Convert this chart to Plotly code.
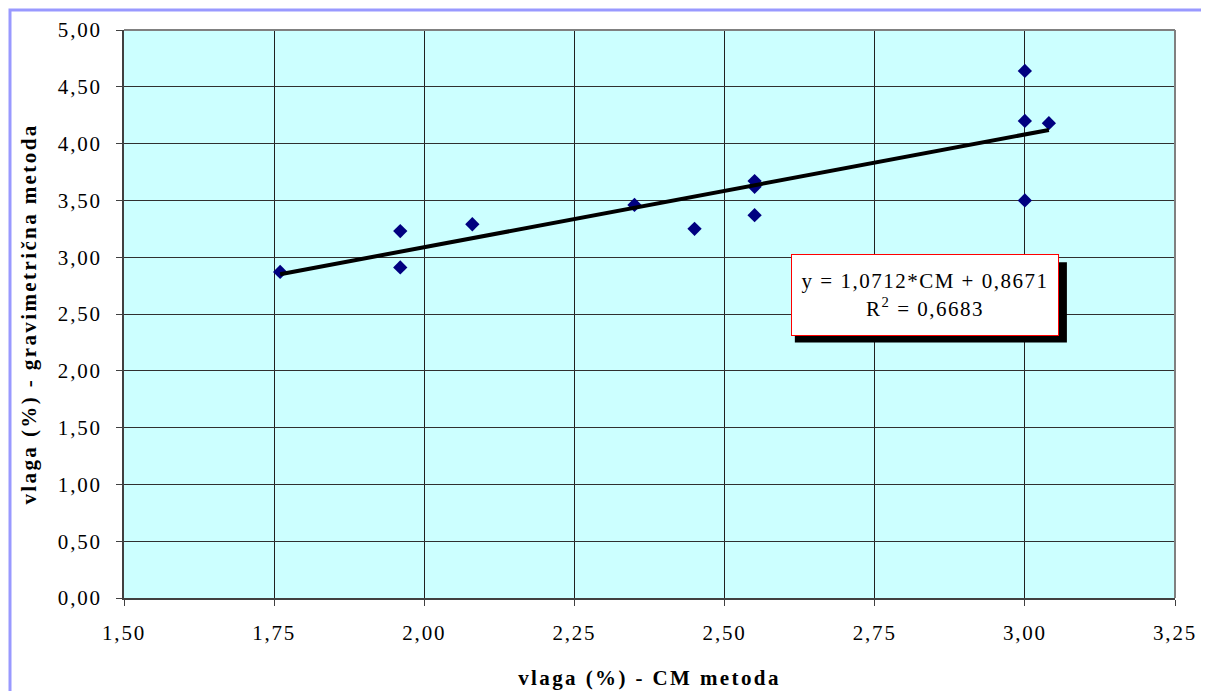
import plotly.graph_objects as go

cm = [1.76, 1.96, 1.96, 2.08, 2.35, 2.45, 2.55, 2.55, 2.55, 3.00, 3.00, 3.00, 3.04]
grav = [2.87, 3.23, 2.91, 3.29, 3.46, 3.25, 3.67, 3.62, 3.37, 4.64, 4.20, 3.50, 4.18]
trend_x = [1.76, 3.04]
trend_y = [2.85, 4.12]
x_ticks = [1.50, 1.75, 2.00, 2.25, 2.50, 2.75, 3.00, 3.25]
y_ticks = [0.0, 0.5, 1.0, 1.5, 2.0, 2.5, 3.0, 3.5, 4.0, 4.5, 5.0]
equation = "y = 1,0712*CM + 0,8671<br>R<sup>2</sup> = 0,6683"

fig = go.Figure()
fig.add_trace(go.Scatter(x=cm, y=grav, mode="markers",
                         marker=dict(symbol="diamond", size=11, color="#000080"),
                         showlegend=False, hoverinfo="x+y"))
fig.add_trace(go.Scatter(x=trend_x, y=trend_y,
                         mode="lines", line=dict(color="black", width=4),
                         showlegend=False))

font = "Times New Roman, Liberation Serif, serif"
W, H = 1201, 683
fig.update_layout(
    width=W, height=H,
    margin=dict(l=116, r=34, t=22, b=93, autoexpand=False),
    paper_bgcolor="white", plot_bgcolor="#ccffff",
    separators=", ",
    font=dict(family=font, size=21, color="black"),
    xaxis=dict(range=[1.5, 3.25], tickvals=x_ticks, tickformat=".2f",
               automargin=False,
               showgrid=True, gridcolor="#202020", gridwidth=1,
               ticks="outside", ticklen=6, tickcolor="#404040",
               ticklabelstandoff=9,
               showline=True, linecolor="#404040", linewidth=2,
               zeroline=False,
               title=dict(text="<b>vlaga (%) - CM metoda</b>", font=dict(size=21), standoff=26)),
    yaxis=dict(range=[0, 5], tickvals=y_ticks, tickformat=".2f",
               automargin=False,
               showgrid=True, gridcolor="#303030", gridwidth=1,
               ticks="outside", ticklen=6, tickcolor="#404040",
               ticklabelstandoff=10,
               showline=True, linecolor="#404040", linewidth=2,
               zeroline=False,
               title=dict(text="<b>vlaga (%) - gravimetrična metoda</b>", font=dict(size=21), standoff=23)),
)
# gray top/right frame
fig.add_shape(type="line", xref="paper", yref="paper", x0=0, x1=1, y0=1, y1=1,
              line=dict(color="#808080", width=2))
fig.add_shape(type="line", xref="paper", yref="paper", x0=1, x1=1, y0=0, y1=1,
              line=dict(color="#808080", width=2))
# outer blue border (screen px converted relative to plot area 124..1175 x 30..598)
fig.add_shape(type="rect", xref="paper", yref="paper",
              x0=(10 - 124) / 1051, x1=(1205 - 124) / 1051,
              y0=-0.3, y1=(598 - 10) / 568,
              line=dict(color="#9999ff", width=3), fillcolor="rgba(0,0,0,0)", layer="below")
# shadow of equation box
fig.add_shape(type="rect", xref="x", yref="y", x0=2.617, x1=3.07, y0=2.25, y1=2.955,
              line=dict(width=0), fillcolor="black")
fig.add_annotation(x=2.8333, y=2.665, xref="x", yref="y", showarrow=False,
                   text=equation,
                   font=dict(size=21, family=font, color="black"),
                   bgcolor="white", bordercolor="#ff0000", borderwidth=1, borderpad=1,
                   width=264, height=78, align="center")

post = """
var gd = document.getElementById('{plot_id}');
function spacing() {
  gd.querySelectorAll('.xtick text, .ytick text').forEach(function(t){ t.style.letterSpacing = '1.8px'; });
  gd.querySelectorAll('.xtitle, .ytitle').forEach(function(t){ t.style.letterSpacing = '2.4px'; });
  gd.querySelectorAll('.annotation-text').forEach(function(t){ t.style.letterSpacing = '1.5px'; });
}
spacing();
gd.on('plotly_afterplot', spacing);
"""
fig.write_html("out.html", post_script=post)
